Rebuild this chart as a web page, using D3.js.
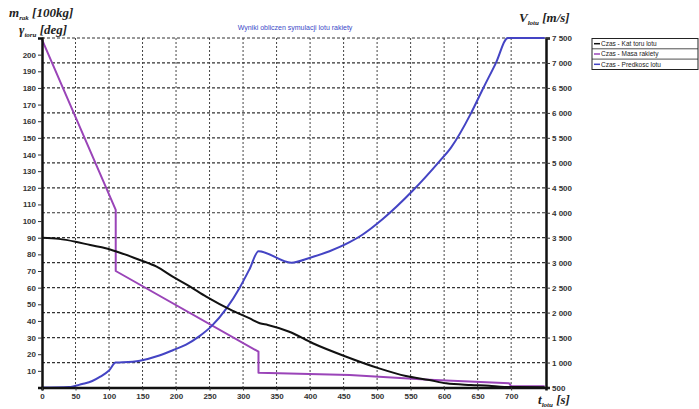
<!DOCTYPE html>
<html>
<head>
<meta charset="utf-8">
<script src="https://cdn.jsdelivr.net/npm/d3@7"></script>
<style>
  body { margin: 0; background: #fff; }
  .tick text { font-family: "Liberation Sans", Arial, sans-serif; font-size: 8px; font-weight: bold; fill: #333; }
  .ttl { font-family: "Liberation Serif", serif; font-style: italic; font-weight: bold; font-size: 13px; fill: #222; }
</style>
</head>
<body>
<div id="chart"></div>
<script>
// Czas - Kat toru lotu (black, left axis)
var angleT = [0, 25, 50, 72, 95, 112, 146, 171, 195, 221, 245, 284, 310, 325, 337, 369, 404, 454, 503, 543, 578, 603, 640, 667, 690, 750];
var angleV = [90, 89.3, 87.6, 85.6, 83.7, 81.6, 76.6, 72.6, 66.6, 60.6, 54.6, 46.2, 41.5, 38.6, 37.6, 33.5, 26.6, 18.5, 11.5, 6.9, 4.5, 2.5, 1.5, 1, 0.3, 0.2];

// Czas - Masa rakiety (purple, left axis)
var massT = [0, 110, 110, 323, 323, 459, 578, 697, 700, 750];
var massV = [209, 106.7, 70, 21.5, 8.9, 7.5, 4.7, 2.5, 0.8, 0.8];

// Czas - Predkosc lotu (blue, right axis)
var velT = [0, 40, 60, 75, 87, 100, 110, 120, 146, 175, 196, 215, 235, 253, 275, 295, 310, 323, 372, 400, 429, 459, 478, 508, 553, 593, 610, 640, 657, 677, 695, 750];
var velV = [500, 510, 570, 630, 716, 840, 1000, 1005, 1037, 1140, 1251, 1360, 1530, 1730, 2080, 2500, 2880, 3230, 3000, 3100, 3230, 3410, 3560, 3870, 4440, 5030, 5300, 5990, 6458, 6993, 7500, 7500];

var xTicks = d3.range(0, 701, 50);
var leftTicks = d3.range(10, 201, 10);
var rightTicks = d3.range(500, 7501, 500);

var legendLabels = ["Czas - Kat toru lotu", "Czas - Masa rakiety", "Czas - Predkosc lotu"];
var colors = ["#111111", "#9a44b8", "#4444c4"];

var svgWidth = 699, svgHeight = 409;
var margin = { top: 38, right: 153, bottom: 21.5, left: 42 };
var width = svgWidth - margin.left - margin.right;
var height = svgHeight - margin.top - margin.bottom;

var svg = d3.select("#chart").append("svg")
  .attr("width", svgWidth)
  .attr("height", svgHeight);

var g = svg.append("g")
  .attr("transform", `translate(${margin.left}, ${margin.top})`);

var x = d3.scaleLinear().domain([0, 752]).range([0, width]);
var yL = d3.scaleLinear().domain([0, 210]).range([height, 0]);
var yR = d3.scaleLinear().domain([500, 7500]).range([height, 0]);

// grid
g.append("g").selectAll("line")
  .data(rightTicks.slice(1))
  .enter().append("line")
  .attr("x1", 0).attr("x2", width)
  .attr("y1", d => yR(d)).attr("y2", d => yR(d))
  .attr("stroke", "#333").attr("stroke-width", 1.2)
  .attr("stroke-dasharray", "3,2");

g.append("g").selectAll("line")
  .data(xTicks.slice(1))
  .enter().append("line")
  .attr("x1", d => x(d)).attr("x2", d => x(d))
  .attr("y1", 0).attr("y2", height)
  .attr("stroke", "#444").attr("stroke-width", 1)
  .attr("stroke-dasharray", "2,2");

// lines
function series(ts, vs, scale, color, curve) {
  var pts = ts.map((t, i) => [t, vs[i]]);
  var line = d3.line()
    .x(d => x(d[0]))
    .y(d => scale(d[1]))
    .curve(curve);
  g.append("path")
    .datum(pts)
    .attr("fill", "none")
    .attr("stroke", color)
    .attr("stroke-width", 2)
    .attr("stroke-linejoin", "round")
    .attr("d", line);
}
series(massT, massV, yL, colors[1], d3.curveLinear);
series(velT, velV, yR, colors[2], d3.curveMonotoneX);
series(angleT, angleV, yL, colors[0], d3.curveMonotoneX);

// axes
var spaceFmt = d3.formatLocale({ decimal: ".", thousands: " ", grouping: [3], currency: ["", ""] }).format(",");

var leftAxis = g.append("g")
  .call(d3.axisLeft(yL).tickValues(leftTicks).tickSize(4).tickPadding(2));
var rightAxis = g.append("g")
  .attr("transform", `translate(${width}, 0)`)
  .call(d3.axisRight(yR).tickValues(rightTicks).tickSize(4).tickPadding(2).tickFormat(spaceFmt));
var bottomAxis = g.append("g")
  .attr("transform", `translate(0, ${height})`)
  .call(d3.axisBottom(x).tickValues(xTicks).tickSize(3).tickPadding(3));

[leftAxis, rightAxis, bottomAxis].forEach(function(a) {
  a.select(".domain").attr("stroke", "#111").attr("stroke-width", 2.5);
  a.selectAll(".tick line").attr("stroke", "#333");
});

// title
svg.append("text")
  .attr("x", 295).attr("y", 30)
  .attr("text-anchor", "middle")
  .style("font-family", "Liberation Sans, Arial, sans-serif")
  .style("font-size", "7px")
  .attr("fill", "#3a4ac8")
  .text("Wyniki obliczen symulacji lotu rakiety");

// axis titles
function axisTitle(xp, yp, main, sub, rest) {
  var t = svg.append("text").attr("class", "ttl").attr("x", xp).attr("y", yp);
  t.append("tspan").text(main);
  t.append("tspan").attr("dy", 3).style("font-size", "7px").text(sub);
  t.append("tspan").attr("dy", -3).text(" " + rest);
}
axisTitle(9, 17, "m", "rak", "[100kg]");
axisTitle(19, 34, "\u03b3", "toru", "[deg]");
axisTitle(519, 22, "V", "lotu", "[m/s]");
axisTitle(538, 404, "t", "lotu", "[s]");

// legend
var legend = svg.append("g").attr("transform", "translate(592, 38.5)");
legend.append("rect")
  .attr("width", 106).attr("height", 31)
  .attr("fill", "#fff").attr("stroke", "#222").attr("stroke-width", 1);
legendLabels.forEach(function(lbl, i) {
  var yy = i * 10.3;
  if (i > 0) {
    legend.append("line").attr("x1", 0).attr("x2", 106)
      .attr("y1", yy).attr("y2", yy).attr("stroke", "#222").attr("stroke-width", 0.8);
  }
  legend.append("line")
    .attr("x1", 2).attr("x2", 8)
    .attr("y1", yy + 5.2).attr("y2", yy + 5.2)
    .attr("stroke", colors[i]).attr("stroke-width", 1.5);
  legend.append("text")
    .attr("x", 9).attr("y", yy + 7.6)
    .style("font-family", "Liberation Sans, Arial, sans-serif")
    .style("font-size", "6.5px")
    .attr("fill", "#222")
    .text(lbl);
});
</script>
</body>
</html>
